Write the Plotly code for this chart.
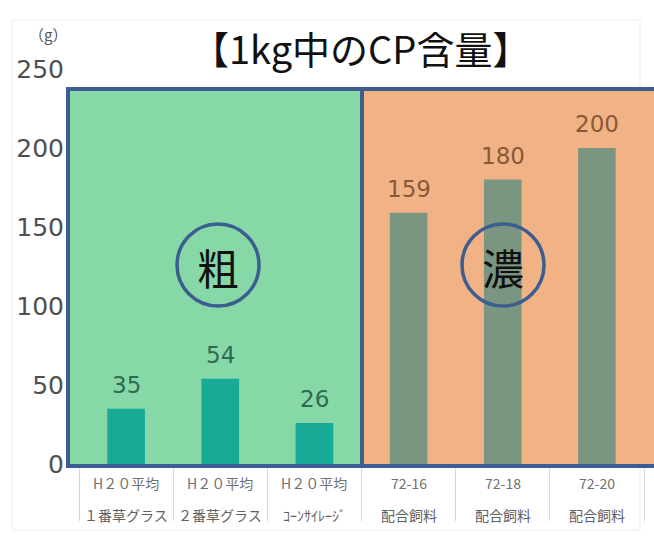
import plotly.graph_objects as go

# Category labels (two rows under each bar) and CP content per kg
row1_labels = ["H２０平均", "H２０平均", "H２０平均", "72-16", "72-18", "72-20"]
row2_labels = ["１番草グラス", "２番草グラス", "ｺｰﾝｻｲﾚｰｼﾞ", "配合飼料", "配合飼料", "配合飼料"]
cp_values = [35, 54, 26, 159, 180, 200]
y_ticks = [0, 50, 100, 150, 200, 250]

positions = list(range(len(cp_values)))

# Roughage (left half) vs concentrate (right half) styling
bar_colors = ["#17aa97"] * 3 + ["#7b9680"] * 3
label_colors = ["#2f6a52"] * 3 + ["#8a5836"] * 3

JP = '"Noto Sans CJK JP", "Noto Sans", sans-serif'
NUM = '"DejaVu Sans", sans-serif'
BLUE = "#3b5d8f"

# plot area geometry in pixels (used to place the panels/circles)
L, R, T, B, W, H = 79, 10, 69, 76, 654, 540
pw, ph = W - L - R, H - T - B


def px_x(px):
    return (px - L) / pw


def px_y(py):
    return (H - B - py) / ph


fig = go.Figure()
fig.add_trace(go.Bar(
    x=positions,
    y=cp_values,
    width=0.4,
    marker=dict(color=bar_colors, line=dict(width=0)),
    hoverinfo="skip",
))

annotations = []
# value labels above the bars
for x, v, c in zip(positions, cp_values, label_colors):
    annotations.append(dict(
        x=x, y=v, xref="x", yref="y", text=str(v), showarrow=False,
        xanchor="center", yanchor="bottom", yshift=9,
        font=dict(family=NUM, size=23, color=c),
    ))
# two-row category labels
for x, a, b in zip(positions, row1_labels, row2_labels):
    annotations.append(dict(
        x=x, y=px_y(483), xref="x", yref="paper", text=a, showarrow=False,
        xanchor="center", yanchor="middle",
        font=dict(family=JP, size=14, color="#707070"),
    ))
    annotations.append(dict(
        x=x, y=px_y(515), xref="x", yref="paper", text=b, showarrow=False,
        xanchor="center", yanchor="middle",
        font=dict(family=JP, size=14, color="#606060"),
    ))
# title and unit
annotations.append(dict(
    x=px_x(360), y=px_y(48), xref="paper", yref="paper", text="【1kg中のCP含量】",
    showarrow=False, xanchor="center", yanchor="middle",
    font=dict(family=JP, size=38, color="#111111"),
))
annotations.append(dict(
    x=px_x(48), y=px_y(35), xref="paper", yref="paper", text="（g）",
    showarrow=False, xanchor="center", yanchor="middle",
    font=dict(family=JP, size=15, color="#555555"),
))

shapes = []
# outer faint frame
shapes.append(dict(type="rect", xref="paper", yref="paper",
                   x0=px_x(12), x1=px_x(640), y0=px_y(530), y1=px_y(20),
                   line=dict(color="#ededed", width=1), layer="below"))
# panel fills
panels = [(68, 362, "#86d9a7"), (362, 662, "#f1b386")]
for x0, x1, fill in panels:
    shapes.append(dict(type="rect", xref="paper", yref="paper",
                       x0=px_x(x0), x1=px_x(x1), y0=px_y(466), y1=px_y(89),
                       fillcolor=fill, line=dict(width=0), layer="below"))
for x0, x1, _ in panels:
    shapes.append(dict(type="rect", xref="paper", yref="paper",
                       x0=px_x(x0), x1=px_x(x1), y0=px_y(466), y1=px_y(89),
                       line=dict(color=BLUE, width=4), layer="above"))
# circled captions
for cx, cy, ch in [(218, 265, "粗"), (503, 265, "濃")]:
    r = 41
    shapes.append(dict(type="circle", xref="paper", yref="paper",
                       x0=px_x(cx - r), x1=px_x(cx + r),
                       y0=px_y(cy + r), y1=px_y(cy - r),
                       line=dict(color=BLUE, width=3.5), layer="above"))
    annotations.append(dict(x=px_x(cx), y=px_y(cy + 1), xref="paper", yref="paper",
                            text=ch, showarrow=False,
                            xanchor="center", yanchor="middle",
                            font=dict(family=JP, size=42, color="#111111")))

fig.update_layout(
    width=W, height=H,
    margin=dict(l=L, r=R, t=T, b=B),
    paper_bgcolor="white",
    plot_bgcolor="rgba(0,0,0,0)",
    showlegend=False,
    shapes=shapes,
    annotations=annotations,
    xaxis=dict(
        range=[-0.5, 5.5], showgrid=False, zeroline=False, showline=False,
        tickmode="array", tickvals=[i - 0.5 for i in range(len(cp_values) + 1)],
        ticks="outside", ticklen=56, tickwidth=1, tickcolor="#d8d8d8",
        showticklabels=False, fixedrange=True,
    ),
    yaxis=dict(
        range=[0, 250], showgrid=False, zeroline=False, showline=False,
        tickmode="array", tickvals=y_ticks,
        ticks="", ticklabelstandoff=14,
        tickfont=dict(family=NUM, size=25, color="#505050"),
        fixedrange=True,
    ),
)

fig.write_html("out.html")
